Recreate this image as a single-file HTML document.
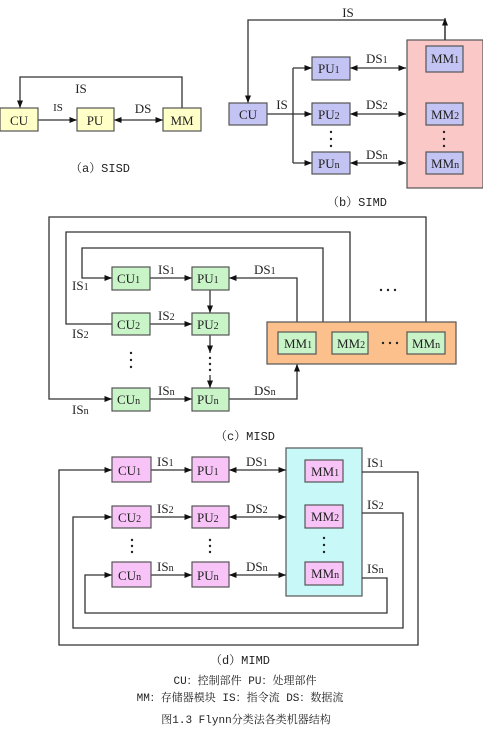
<!DOCTYPE html>
<html><head><meta charset="utf-8"><style>
html,body{margin:0;padding:0;background:#fff;width:483px;height:730px;overflow:hidden}
svg{display:block}
text{font-family:"Liberation Serif","Noto Serif CJK SC",serif;fill:#222;font-size:13px}
.b{text-anchor:middle}
.s{font-size:10px}
.cap{font-family:"Liberation Mono","Noto Serif CJK SC",monospace;font-size:12px;text-anchor:middle}
.leg{font-family:"Liberation Mono","Noto Serif CJK SC",monospace;font-size:11px;text-anchor:middle}
line,polyline{stroke:#333;stroke-width:1.3;fill:none}
.y{fill:#ffffc8;stroke:#555;stroke-width:1.2}
.p{fill:#c4c4f4;stroke:#555;stroke-width:1.2}
.g{fill:#c8f4c8;stroke:#555;stroke-width:1.2}
.m{fill:#f8c4f8;stroke:#555;stroke-width:1.2}
</style></head><body>
<svg width="483" height="730" viewBox="0 0 483 730" xmlns="http://www.w3.org/2000/svg">
<defs>
<marker id="a" viewBox="0 0 10 8" refX="10" refY="4" markerWidth="8" markerHeight="6" orient="auto-start-reverse" markerUnits="userSpaceOnUse"><path d="M0,0 L10,4 L0,8 z" fill="#111"/></marker>
</defs>

<!-- SISD -->
<polyline points="182,108 182,77 20,77 20,108" marker-end="url(#a)"/>
<line x1="38" y1="120" x2="77" y2="120" marker-end="url(#a)"/>
<line x1="114" y1="120" x2="163" y2="120" marker-start="url(#a)" marker-end="url(#a)"/>
<rect class="y" x="0" y="108" width="38" height="23"/>
<rect class="y" x="77" y="108" width="37" height="23"/>
<rect class="y" x="163" y="108" width="38" height="23"/>
<text class="b" x="19" y="125">CU</text>
<text class="b" x="95" y="125">PU</text>
<text class="b" x="182" y="125">MM</text>
<text class="b" x="81" y="93">IS</text>
<text class="b" x="58" y="111" style="font-size:11px">IS</text>
<text class="b" x="143" y="113">DS</text>
<text class="cap" x="100" y="172">（a）SISD</text>

<!-- SIMD -->
<rect x="407" y="40" width="76" height="148" fill="#fbc8c8" stroke="#555" stroke-width="1.2"/>
<polyline points="445,40 445,20 248,20 248,103" marker-end="url(#a)"/>
<line x1="445" y1="40" x2="445" y2="18" marker-end="url(#a)"/>
<line x1="267" y1="114" x2="293" y2="114"/>
<line x1="293" y1="68" x2="293" y2="163"/>
<line x1="293" y1="68" x2="312" y2="68" marker-end="url(#a)"/>
<line x1="293" y1="114" x2="312" y2="114" marker-end="url(#a)"/>
<line x1="293" y1="163" x2="312" y2="163" marker-end="url(#a)"/>
<line x1="350" y1="68" x2="406" y2="68" marker-start="url(#a)" marker-end="url(#a)"/>
<line x1="350" y1="114" x2="406" y2="114" marker-start="url(#a)" marker-end="url(#a)"/>
<line x1="350" y1="163" x2="406" y2="163" marker-start="url(#a)" marker-end="url(#a)"/>
<rect class="p" x="229" y="103" width="38" height="22"/>
<rect class="p" x="312" y="57" width="38" height="23"/>
<rect class="p" x="312" y="103" width="38" height="22"/>
<rect class="p" x="312" y="152" width="38" height="22"/>
<rect class="p" x="426" y="46" width="37" height="26"/>
<rect class="p" x="426" y="103" width="37" height="22"/>
<rect class="p" x="426" y="152" width="37" height="22"/>
<text class="b" x="248" y="119">CU</text>
<text class="b" x="282" y="109">IS</text>
<text x="318" y="73">PU<tspan class="s">1</tspan></text>
<text x="318" y="119">PU<tspan class="s">2</tspan></text>
<text x="318" y="168">PU<tspan class="s">n</tspan></text>
<text x="431" y="63">MM<tspan class="s">1</tspan></text>
<text x="431" y="119">MM<tspan class="s">2</tspan></text>
<text x="431" y="168">MM<tspan class="s">n</tspan></text>
<text x="366" y="63">DS<tspan class="s">1</tspan></text>
<text x="366" y="109">DS<tspan class="s">2</tspan></text>
<text x="366" y="159">DS<tspan class="s">n</tspan></text>
<text class="b" x="348" y="17">IS</text>
<g fill="#222"><circle cx="331" cy="132" r="1.2"/><circle cx="331" cy="139" r="1.2"/><circle cx="331" cy="146" r="1.2"/>
<circle cx="444" cy="132" r="1.2"/><circle cx="444" cy="139" r="1.2"/><circle cx="444" cy="146" r="1.2"/></g>
<text class="cap" x="357" y="206">（b）SIMD</text>

<!-- MISD -->
<polyline points="426,322 426,217 49,217 49,399 112,399" marker-end="url(#a)"/>
<polyline points="350,322 350,232 66,232 66,324 112,324"/>
<polyline points="323,322 323,248 82,248 82,278 112,278" marker-end="url(#a)"/>
<polyline points="297,322 297,278 229,278" marker-end="url(#a)"/>
<polyline points="229,399 297,399 297,364" marker-end="url(#a)"/>
<line x1="150" y1="278" x2="192" y2="278" marker-end="url(#a)"/>
<line x1="150" y1="324" x2="192" y2="324" marker-end="url(#a)"/>
<line x1="150" y1="399" x2="192" y2="399" marker-end="url(#a)"/>
<line x1="210" y1="290" x2="210" y2="313" marker-end="url(#a)"/>
<line x1="210" y1="335" x2="210" y2="353" marker-end="url(#a)"/>
<line x1="210" y1="375" x2="210" y2="388" marker-end="url(#a)"/>
<g fill="#222"><circle cx="210" cy="358" r="1.2"/><circle cx="210" cy="364" r="1.2"/><circle cx="210" cy="370" r="1.2"/>
<circle cx="131" cy="353" r="1.2"/><circle cx="131" cy="360" r="1.2"/><circle cx="131" cy="367" r="1.2"/></g>
<rect x="267" y="322" width="189" height="42" fill="#fbc08c" stroke="#555" stroke-width="1.2"/>
<rect class="g" x="112" y="267" width="38" height="23"/>
<rect class="g" x="192" y="267" width="37" height="23"/>
<rect class="g" x="112" y="313" width="38" height="22"/>
<rect class="g" x="192" y="313" width="37" height="22"/>
<rect class="g" x="112" y="388" width="38" height="23"/>
<rect class="g" x="192" y="388" width="37" height="23"/>
<rect class="g" x="278" y="332" width="38" height="22"/>
<rect class="g" x="332" y="332" width="36" height="22"/>
<rect class="g" x="407" y="332" width="38" height="22"/>
<text x="117" y="283">CU<tspan class="s">1</tspan></text>
<text x="197" y="283">PU<tspan class="s">1</tspan></text>
<text x="117" y="329">CU<tspan class="s">2</tspan></text>
<text x="197" y="329">PU<tspan class="s">2</tspan></text>
<text x="117" y="404">CU<tspan class="s">n</tspan></text>
<text x="197" y="404">PU<tspan class="s">n</tspan></text>
<text x="284" y="348">MM<tspan class="s">1</tspan></text>
<text x="337" y="348">MM<tspan class="s">2</tspan></text>
<text x="412" y="348">MM<tspan class="s">n</tspan></text>
<text x="158" y="274">IS<tspan class="s">1</tspan></text>
<text x="158" y="320">IS<tspan class="s">2</tspan></text>
<text x="158" y="395">IS<tspan class="s">n</tspan></text>
<text x="254" y="274">DS<tspan class="s">1</tspan></text>
<text x="254" y="395">DS<tspan class="s">n</tspan></text>
<text x="72" y="290">IS<tspan class="s">1</tspan></text>
<text x="72" y="338">IS<tspan class="s">2</tspan></text>
<text x="72" y="414">IS<tspan class="s">n</tspan></text>
<g fill="#222"><circle cx="381" cy="290" r="1.2"/><circle cx="388" cy="290" r="1.2"/><circle cx="395" cy="290" r="1.2"/>
<circle cx="383" cy="343" r="1.2"/><circle cx="390" cy="343" r="1.2"/><circle cx="397" cy="343" r="1.2"/></g>
<text class="cap" x="245" y="440">（c）MISD</text>

<!-- MIMD -->
<rect x="286" y="448" width="76" height="148" fill="#c8f8f8" stroke="#555" stroke-width="1.2"/>
<polyline points="362,472 418,472 418,645 59,645 59,470 112,470" marker-end="url(#a)"/>
<polyline points="362,513 403,513 403,628 73,628 73,517 112,517" marker-end="url(#a)"/>
<polyline points="362,578 387,578 387,613 85,613 85,575 112,575" marker-end="url(#a)"/>
<line x1="151" y1="470" x2="192" y2="470" marker-end="url(#a)"/>
<line x1="151" y1="517" x2="192" y2="517" marker-end="url(#a)"/>
<line x1="151" y1="575" x2="192" y2="575" marker-end="url(#a)"/>
<line x1="229" y1="470" x2="286" y2="470" marker-start="url(#a)" marker-end="url(#a)"/>
<line x1="229" y1="517" x2="286" y2="517" marker-start="url(#a)" marker-end="url(#a)"/>
<line x1="229" y1="575" x2="286" y2="575" marker-start="url(#a)" marker-end="url(#a)"/>
<rect class="m" x="112" y="457" width="39" height="25"/>
<rect class="m" x="192" y="457" width="37" height="25"/>
<rect class="m" x="112" y="506" width="39" height="22"/>
<rect class="m" x="192" y="506" width="37" height="22"/>
<rect class="m" x="112" y="562" width="39" height="25"/>
<rect class="m" x="192" y="562" width="37" height="25"/>
<rect class="m" x="305" y="460" width="38" height="22"/>
<rect class="m" x="305" y="505" width="38" height="23"/>
<rect class="m" x="305" y="562" width="38" height="23"/>
<text x="118" y="475">CU<tspan class="s">1</tspan></text>
<text x="197" y="475">PU<tspan class="s">1</tspan></text>
<text x="118" y="522">CU<tspan class="s">2</tspan></text>
<text x="197" y="522">PU<tspan class="s">2</tspan></text>
<text x="118" y="580">CU<tspan class="s">n</tspan></text>
<text x="197" y="580">PU<tspan class="s">n</tspan></text>
<text x="311" y="476">MM<tspan class="s">1</tspan></text>
<text x="311" y="521">MM<tspan class="s">2</tspan></text>
<text x="311" y="578">MM<tspan class="s">n</tspan></text>
<text x="157" y="466">IS<tspan class="s">1</tspan></text>
<text x="157" y="513">IS<tspan class="s">2</tspan></text>
<text x="157" y="571">IS<tspan class="s">n</tspan></text>
<text x="246" y="466">DS<tspan class="s">1</tspan></text>
<text x="246" y="513">DS<tspan class="s">2</tspan></text>
<text x="246" y="571">DS<tspan class="s">n</tspan></text>
<text x="367" y="467">IS<tspan class="s">1</tspan></text>
<text x="367" y="509">IS<tspan class="s">2</tspan></text>
<text x="367" y="573">IS<tspan class="s">n</tspan></text>
<g fill="#222"><circle cx="132" cy="540" r="1.2"/><circle cx="132" cy="546" r="1.2"/><circle cx="132" cy="552" r="1.2"/>
<circle cx="210" cy="540" r="1.2"/><circle cx="210" cy="546" r="1.2"/><circle cx="210" cy="552" r="1.2"/>
<circle cx="324" cy="538" r="1.2"/><circle cx="324" cy="545" r="1.2"/><circle cx="324" cy="552" r="1.2"/></g>
<text class="cap" x="240" y="664">（d）MIMD</text>
<text class="leg" x="245" y="684">CU：控制部件  PU：处理部件</text>
<text class="leg" x="240" y="701">MM：存储器模块  IS：指令流  DS：数据流</text>
<text class="leg" x="246" y="723">图1.3  Flynn分类法各类机器结构</text>
</svg>
</body></html>
